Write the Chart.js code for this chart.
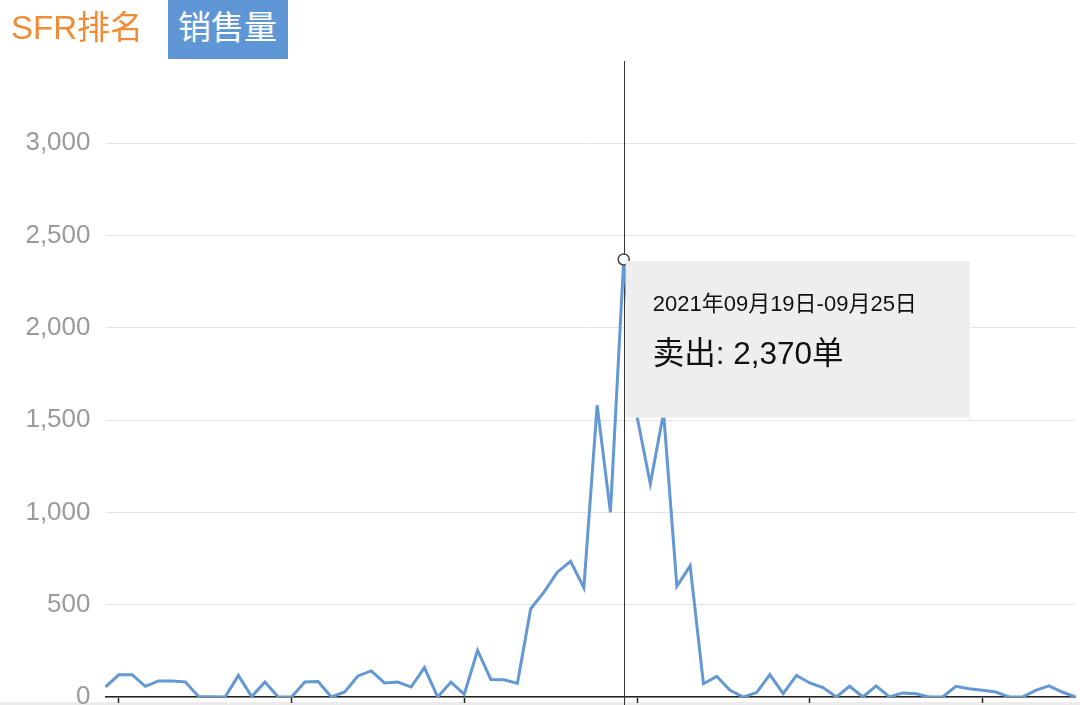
<!DOCTYPE html>
<html>
<head>
    <title>SFR 销售量</title>
    <meta charset="utf-8">
    <script src="https://cdn.jsdelivr.net/npm/chart.js"></script>
    <style>
        body {
            margin: 0;
            padding: 0;
            width: 1080px;
            height: 705px;
            overflow: hidden;
            background: #fff;
            font-family: "Liberation Sans", "Noto Sans CJK SC", sans-serif;
        }
        #tab-rank {
            position: absolute;
            left: 11px;
            top: 7px;
            font-size: 33px;
            line-height: 42px;
            color: #ef8c35;
        }
        #tab-sales {
            position: absolute;
            left: 168px;
            top: 0;
            width: 120px;
            height: 59px;
            background: #5f97d6;
            color: #fff;
            font-size: 33px;
            line-height: 42px;
            box-sizing: border-box;
            padding: 7px 0 0 10px;
        }
        #strip {
            position: absolute;
            left: 0;
            top: 702px;
            width: 1080px;
            height: 3px;
            background: #ebebeb;
        }
        #chart-wrapper {
            position: absolute;
            left: 0;
            top: 0;
            width: 1080px;
            height: 705px;
        }
    </style>
</head>
<body>

<div id="strip"></div>
<div id="chart-wrapper">
  <canvas id="salesChart"></canvas>
</div>
<div id="tab-rank">SFR排名</div>
<div id="tab-sales">销售量</div>

<script>
// week start dates (Sunday), one point per week
const weekStarts = [
    '2020-12-20', '2020-12-27', '2021-01-03', '2021-01-10', '2021-01-17', '2021-01-24', '2021-01-31',
    '2021-02-07', '2021-02-14', '2021-02-21', '2021-02-28', '2021-03-07', '2021-03-14', '2021-03-21',
    '2021-03-28', '2021-04-04', '2021-04-11', '2021-04-18', '2021-04-25', '2021-05-02', '2021-05-09',
    '2021-05-16', '2021-05-23', '2021-05-30', '2021-06-06', '2021-06-13', '2021-06-20', '2021-06-27',
    '2021-07-04', '2021-07-11', '2021-07-18', '2021-07-25', '2021-08-01', '2021-08-08', '2021-08-15',
    '2021-08-22', '2021-08-29', '2021-09-05', '2021-09-12', '2021-09-19', '2021-09-26', '2021-10-03',
    '2021-10-10', '2021-10-17', '2021-10-24', '2021-10-31', '2021-11-07', '2021-11-14', '2021-11-21',
    '2021-11-28', '2021-12-05', '2021-12-12', '2021-12-19', '2021-12-26', '2022-01-02', '2022-01-09',
    '2022-01-16', '2022-01-23', '2022-01-30', '2022-02-06', '2022-02-13', '2022-02-20', '2022-02-27',
    '2022-03-06', '2022-03-13', '2022-03-20', '2022-03-27', '2022-04-03', '2022-04-10', '2022-04-17',
    '2022-04-24', '2022-05-01', '2022-05-08', '2022-05-15'
];

// units sold per week
const sales = [
    55, 120, 121, 58, 87, 87, 82, 3, 2, 0,
    117, 2, 81, 0, 0, 81, 84, 0, 27, 114,
    141, 76, 81, 54, 159, 0, 81, 15, 252, 95,
    93, 74, 478, 568, 676, 735, 592, 1580, 1000, 2370,
    1520, 1155, 1540, 600, 710, 72, 112, 36, 0, 24,
    121, 18, 117, 76, 51, 0, 58, 0, 60, 0,
    22, 18, 0, 0, 58, 45, 36, 27, 0, 0,
    36, 60, 27, 0
];

const yTicks = [0, 500, 1000, 1500, 2000, 2500, 3000];
const yMax = 3445;

function pad2(n) { return String(n).padStart(2, '0'); }

function weekLabel(start) {
    const d = new Date(start + 'T00:00:00Z');
    const e = new Date(d.getTime() + 6 * 86400000);
    return d.getUTCFullYear() + '年' + pad2(d.getUTCMonth() + 1) + '月' + pad2(d.getUTCDate()) + '日-' +
        pad2(e.getUTCMonth() + 1) + '月' + pad2(e.getUTCDate()) + '日';
}

const labels = weekStarts.map(weekLabel);
const peakIndex = sales.indexOf(Math.max(...sales));

const fontFamily = "'Liberation Sans', 'Noto Sans CJK SC', sans-serif";

Chart.Tooltip.positioners.atPoint = function(items) {
    if (!items.length) return false;
    const p = items[0].element;
    return { x: p.x + 2, y: p.y + 1.5 };
};

// vertical line through the hovered week
const crosshair = {
    id: 'crosshair',
    beforeDatasetsDraw(chart) {
        const active = chart.getActiveElements();
        if (!active.length) return;
        const x = Math.round(active[0].element.x) + 0.5;
        const c = chart.ctx;
        c.save();
        c.strokeStyle = '#333';
        c.lineWidth = 1;
        c.beginPath();
        c.moveTo(x, chart.chartArea.top);
        c.lineTo(x, chart.height);
        c.stroke();
        c.restore();
    }
};

var ctx = document.getElementById('salesChart').getContext('2d');
const chart = new Chart(ctx, {
    type: 'line',
    data: {
        labels: labels,
        datasets: [{
            data: sales,
            borderColor: '#6398d3',
            borderWidth: 3,
            tension: 0,
            fill: false,
            pointRadius: 0,
            pointHoverRadius: 5.5,
            pointHoverBorderWidth: 1.5,
            pointHoverBackgroundColor: '#fff',
            pointHoverBorderColor: '#444'
        }]
    },
    options: {
        responsive: true,
        maintainAspectRatio: false,
        animation: false,
        events: [],
        layout: { padding: { top: 61, right: 4.5, bottom: 2, left: 0 } },
        plugins: {
            legend: { display: false },
            title: { display: false },
            tooltip: {
                position: 'atPoint',
                xAlign: 'left',
                yAlign: 'top',
                caretSize: 0,
                caretPadding: 0,
                cornerRadius: 0,
                displayColors: false,
                backgroundColor: '#eeeeee',
                titleColor: '#111',
                bodyColor: '#111',
                titleFont: { family: fontFamily, size: 22, weight: 'normal' },
                bodyFont: { family: fontFamily, size: 31.5 },
                titleMarginBottom: 17.9,
                padding: { top: 30.8, bottom: 44, left: 27, right: 53 },
                callbacks: {
                    title: items => items[0].label,
                    label: item => '卖出: ' + item.parsed.y.toLocaleString('en-US') + '单'
                }
            }
        },
        scales: {
            x: {
                type: 'category',
                offset: false,
                ticks: { display: false },
                grid: {
                    drawOnChartArea: false,
                    drawTicks: true,
                    tickLength: 6,
                    tickWidth: 1.5,
                    tickColor: c => (c.index % 13 === 1) ? '#222' : 'rgba(0,0,0,0)'
                },
                border: { display: true, color: '#222', width: 1.5 }
            },
            y: {
                min: 0,
                max: yMax,
                afterBuildTicks: scale => {
                    scale.ticks = yTicks.map(v => ({ value: v }));
                },
                afterFit: scale => {
                    scale.width = 105.5;
                    scale.paddingTop = 0;
                    scale.paddingBottom = 0;
                },
                ticks: {
                    padding: 15,
                    color: '#9a9a9a',
                    font: { family: fontFamily, size: 26 },
                    callback: v => v.toLocaleString('en-US')
                },
                grid: { color: '#e4e4e4', lineWidth: 1, drawTicks: false },
                border: { display: false }
            }
        }
    },
    plugins: [crosshair]
});

const activeEls = [{ datasetIndex: 0, index: peakIndex }];
chart.setActiveElements(activeEls);
chart.tooltip.setActiveElements(activeEls, { x: 0, y: 0 });
chart.update();
</script>

</body>
</html>
